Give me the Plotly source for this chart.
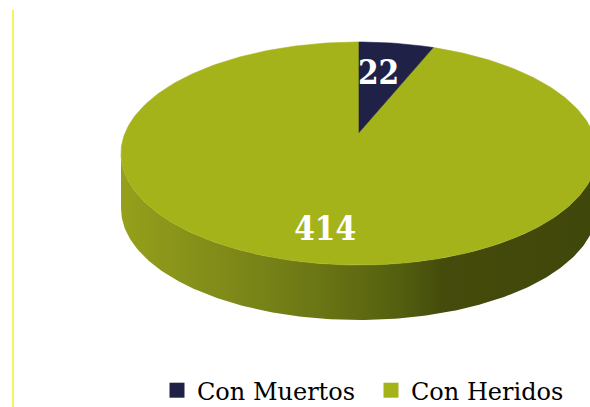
import numpy as np
import plotly.graph_objects as go

# ---- data ----
categories = ["Con Muertos", "Con Heridos"]
values = [22, 414]
colors = ["#1f2147", "#a5b31a"]

# ---- geometry (pixel-like axis space, y downward) ----
W, H = 590, 407
cx, cy = 359, 153.5
a, b = 238, 111.5
depth = 55
apex_shift = -21  # perspective offset of the pie centre on the top face
label_radius = [0.52, 0.9]

total = sum(values)
fracs = [v / total for v in values]

fig = go.Figure()

# side band (visible lower half)
t = np.linspace(np.pi / 2, 3 * np.pi / 2, 200)
ex = cx + a * np.sin(t)
ey = cy - b * np.cos(t)
side_x = np.concatenate([ex, ex[::-1]])
side_y = np.concatenate([ey, (ey + depth)[::-1]])
fig.add_trace(go.Scatter(
    x=side_x, y=side_y, mode="lines", fill="toself", line=dict(width=0),
    fillgradient=dict(type="horizontal", colorscale=[
        [0.0, "#95a01b"], [0.15, "#86911a"], [0.38, "#6f7a16"],
        [0.58, "#55600f"], [0.68, "#444b0b"], [1.0, "#40470a"]]),
    showlegend=False, hoverinfo="skip"))

# top face slices (large slice first, small slice on top)
ax_, ay_ = cx, cy + apex_shift
start = 0.0
label_pos = []
slices = []
for i, f in enumerate(fracs):
    t0, t1 = 2 * np.pi * start, 2 * np.pi * (start + f)
    tt = np.linspace(t0, t1, max(int(400 * f), 20))
    px = np.concatenate([[ax_], cx + a * np.sin(tt), [ax_]])
    py = np.concatenate([[ay_], cy - b * np.cos(tt), [ay_]])
    slices.append((px, py))
    tm = (t0 + t1) / 2
    r = label_radius[i]
    label_pos.append((ax_ + r * a * np.sin(tm), ay_ - r * b * np.cos(tm)))
    start += f

for i in reversed(range(len(slices))):
    px, py = slices[i]
    fig.add_trace(go.Scatter(
        x=px, y=py, mode="lines", fill="toself", fillcolor=colors[i],
        line=dict(width=0.6, color=colors[i]), showlegend=False, hoverinfo="skip"))

# value labels
fig.add_trace(go.Scatter(
    x=[p[0] for p in label_pos], y=[p[1] for p in label_pos],
    mode="text", text=[str(v) for v in values],
    textfont=dict(family="DejaVu Serif Condensed, DejaVu Serif", size=33,
                  color="white", weight="bold"),
    showlegend=False, hoverinfo="skip"))

# legend entries
for cat, col in zip(categories, colors):
    fig.add_trace(go.Scatter(
        x=[None], y=[None], mode="markers", name=cat,
        marker=dict(symbol="square", size=15, color=col)))

fig.add_shape(type="line", xref="paper", yref="paper", x0=13 / W, x1=13 / W,
              y0=0, y1=1 - 10 / H, line=dict(color="#f2ee00", width=1.3))

fig.update_layout(
    width=W, height=H, margin=dict(l=0, r=0, t=0, b=0, autoexpand=False),
    paper_bgcolor="white", plot_bgcolor="white",
    xaxis=dict(range=[0, W], visible=False, fixedrange=True),
    yaxis=dict(range=[H, 0], visible=False, fixedrange=True),
    showlegend=True,
    legend=dict(orientation="h", x=157 / W, xanchor="left", y=-0.015, yanchor="bottom",
                font=dict(family="DejaVu Serif", size=24, color="black"),
                entrywidth=169, entrywidthmode="pixels",
                itemwidth=30, bgcolor="rgba(0,0,0,0)"),
)

fig.write_html("out.html", config={"displayModeBar": False},
               post_script="document.body.style.margin='0';")
